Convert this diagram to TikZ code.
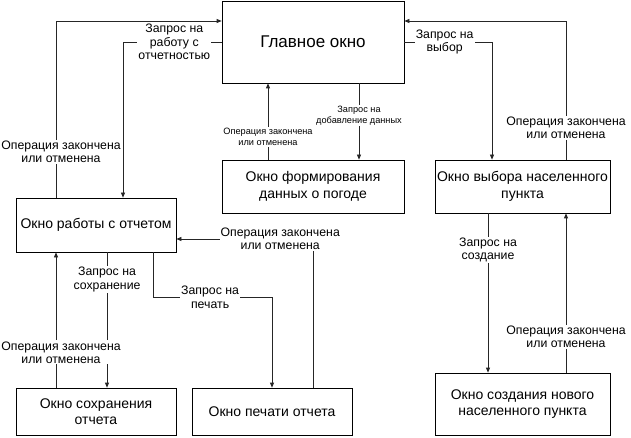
\documentclass[tikz,border=0pt]{standalone}
\usepackage{fontspec}
\setmainfont{Liberation Sans}
\usepackage{tikz}
\usetikzlibrary{arrows.meta}

\begin{document}
\begin{tikzpicture}[x=1pt,y=-1pt,
  win/.style={draw=black,line width=0.7pt,align=center,inner sep=2pt,
    font=\fontsize{14}{16.5}\selectfont},
  lbl/.style={fill=white,align=center,inner sep=1pt,font=\fontsize{12.3}{13.3}\selectfont},
  smalllbl/.style={fill=white,align=center,inner sep=1pt,font=\fontsize{9.2}{11}\selectfont},
  flow/.style={draw=black!85,line width=0.7pt,-{Triangle[length=5pt,width=4pt]}}]
\useasboundingbox (0,0) rectangle (631,438);
% windows
\node[win,minimum width=182pt,minimum height=82pt,font=\fontsize{17}{20}\selectfont] (main) at (313,42) {Главное окно};
\node[win,minimum width=182pt,minimum height=53pt] (weather) at (313,186.5) {Окно формирования\\данных о погоде};
\node[win,minimum width=175pt,minimum height=53pt] (select) at (522.5,186.5) {Окно выбора населенного\\пункта};
\node[win,minimum width=160pt,minimum height=54pt] (report) at (96,225) {Окно работы с отчетом};
\node[win,minimum width=160pt,minimum height=47pt] (save) at (96,411.5) {Окно сохранения\\отчета};
\node[win,minimum width=160pt,minimum height=47pt] (print) at (272,411.5) {Окно печати отчета};
\node[win,minimum width=175pt,minimum height=62pt] (create) at (522.5,404) {Окно создания нового\\населенного пункта};
% report <-> main
\draw[flow] ([xshift=-40pt]report.north) |- node[lbl,pos=0.13,xshift=5pt] {Операция закончена\\или отменена} ([yshift=21pt]main.west);
\draw[flow] (main.west) -| node[lbl,pos=0.24] {Запрос на\\работу с\\отчетностью} ([xshift=27pt]report.north);
% weather <-> main
\draw[flow] ([xshift=-45pt]weather.north) -- node[smalllbl,pos=0.3] {Операция закончена\\или отменена} ([xshift=-45pt]main.south);
\draw[flow] ([xshift=46pt]main.south) -- node[smalllbl,pos=0.42] {Запрос на\\добавление данных} ([xshift=46pt]weather.north);
% select <-> main
\draw[flow] (main.east) -| node[lbl,pos=0.23] {Запрос на\\выбор} ([xshift=-30.5pt]select.north);
\draw[flow] ([xshift=43.5pt]select.north) |- node[lbl,pos=0.115] {Операция закончена\\или отменена} ([yshift=21pt]main.east);
% create <-> select
\draw[flow] ([xshift=-34.5pt]select.south) -- node[lbl,pos=0.23] {Запрос на\\создание} ([xshift=-34.5pt]create.north);
\draw[flow] ([xshift=43.5pt]create.north) -- node[lbl,pos=0.225] {Операция закончена\\или отменена} ([xshift=43.5pt]select.south);
% save <-> report
\draw[flow] ([xshift=11pt]report.south) -- node[lbl,pos=0.2] {Запрос на\\сохранение} ([xshift=11pt]save.north);
\draw[flow] ([xshift=-40pt]save.north) -- node[lbl,pos=0.26,xshift=5pt] {Операция закончена\\или отменена} ([xshift=-40pt]report.south);
% print <-> report
\draw[flow] ([xshift=57pt]report.south) -- ++(0,45) -| node[lbl,pos=0.24] {Запрос на\\печать} (print.north);
\draw[flow] ([xshift=41pt]print.north) |- node[lbl,pos=0.62] {Операция закончена\\или отменена} ([yshift=-14pt]report.east);
\end{tikzpicture}
\end{document}
